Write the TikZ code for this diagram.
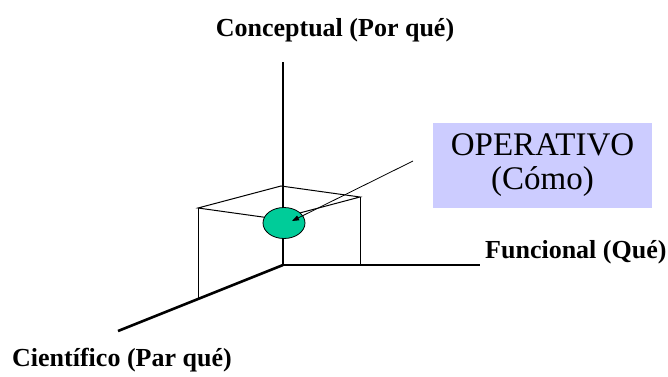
\documentclass[tikz,border=0pt]{standalone}
\usepackage{fontspec}
\setmainfont{Liberation Serif}
\usetikzlibrary{arrows.meta,shapes.geometric}
\definecolor{EjeLinea}{HTML}{000000}
\definecolor{PuntoVerde}{HTML}{00CC99}
\definecolor{CajaLila}{HTML}{CCCCFF}
\tikzset{
  eje/.style={EjeLinea,line width=2.6pt},
  cubo/.style={EjeLinea,line width=1pt,line join=miter},
  rotulo/.style={font=\fontsize{26}{28}\selectfont\bfseries,inner sep=0pt}
}

\begin{document}
\begin{tikzpicture}[x=1pt,y=1pt]
        \useasboundingbox (0,0) rectangle (668,376);
        % ejes
        \coordinate (origen) at (283,111);
        \coordinate (arriba) at (283,314);
        \coordinate (derecha) at (480,111);
        \coordinate (abajo) at (118,45);
        % caja
        \coordinate (izqA) at (198,168);
        \coordinate (fondoA) at (281,190);
        \coordinate (derA) at (360,179);
        \coordinate (frenteA) at (277,157);
        \coordinate (izqB) at (198,77);
        \coordinate (derB) at (360,111);
        \draw[cubo] (izqA) -- (fondoA) -- (derA) -- (frenteA) -- cycle;
        \draw[cubo] (izqA) -- (izqB);
        \draw[cubo] (derA) -- (derB);
        \draw[eje] (arriba) -- (origen) -- (derecha);
        \draw[eje] (origen) -- (abajo);
        \node[ellipse,draw=EjeLinea,line width=0.8pt,fill=PuntoVerde,
          minimum width=42pt,minimum height=31pt,inner sep=0pt]
          (punto) at (284,153) {};
        \coordinate (flecha) at (413,215);
        \coordinate (punta) at (292,155);
        \draw[EjeLinea,line width=0.8pt,-{Triangle[length=7pt,width=5pt]}]
          (flecha) -- (punta);
        \node[fill=CajaLila,minimum width=219pt,minimum height=85pt,
          align=center,font=\fontsize{33}{34}\selectfont,inner sep=0pt]
          (operativo) at (542.5,210.5) {OPERATIVO\\(Cómo)};
        \node[rotulo,anchor=base] (conceptual) at (335,340) {Conceptual (Por qué)};
        \node[rotulo,anchor=base west] (funcional) at (485,118) {Funcional (Qué)};
        \node[rotulo,anchor=base west] (cientifico) at (12,10) {Científico (Par qué)};
      \end{tikzpicture}
\end{document}
